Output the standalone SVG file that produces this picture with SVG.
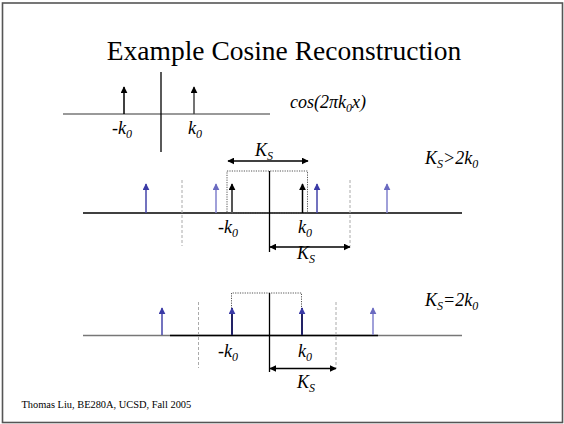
<svg xmlns="http://www.w3.org/2000/svg" width="564" height="424" viewBox="0 0 564 424" font-family="'Liberation Serif', 'Times New Roman', 'DejaVu Serif', serif">
<defs>
<style>
.it{font-style:italic;font-size:18px}
.sb{font-size:12px}
.ax{stroke:#000;stroke-width:1.3;fill:none}
.gax{stroke:#777;stroke-width:1.3;fill:none}
.dash{stroke:#aaa;stroke-width:1;stroke-dasharray:3,2;fill:none}
.dot{stroke:#555;stroke-width:1;stroke-dasharray:1.2,1.2;fill:none}
.blk{stroke:#000;stroke-width:1.5;marker-end:url(#hb)}
.gry{stroke:#555;stroke-width:2;marker-end:url(#hb)}
.b1{stroke:#4444aa;stroke-width:1.5;marker-end:url(#hblue)}
.b2{stroke:#8080cc;stroke-width:1.5;marker-end:url(#hlb)}
.b3{stroke:#222266;stroke-width:2;marker-end:url(#hblue)}
.dim{stroke:#000;stroke-width:1.3;marker-start:url(#hs);marker-end:url(#hb)}
</style>
<marker id="hb" viewBox="0 0 10 10" refX="9" refY="5" markerWidth="7" markerHeight="7" markerUnits="userSpaceOnUse" orient="auto"><path d="M0,0 L10,5 L0,10 z" fill="#000"/></marker>
<marker id="hs" viewBox="0 0 10 10" refX="1" refY="5" markerWidth="7" markerHeight="7" markerUnits="userSpaceOnUse" orient="auto"><path d="M10,0 L0,5 L10,10 z" fill="#000"/></marker>
<marker id="hblue" viewBox="0 0 10 10" refX="9" refY="5" markerWidth="7" markerHeight="7" markerUnits="userSpaceOnUse" orient="auto"><path d="M0,0 L10,5 L0,10 z" fill="#3a3aa6"/></marker>
<marker id="hlb" viewBox="0 0 10 10" refX="9" refY="5" markerWidth="7" markerHeight="7" markerUnits="userSpaceOnUse" orient="auto"><path d="M0,0 L10,5 L0,10 z" fill="#6a6ac0"/></marker>
</defs>
<rect x="0" y="0" width="564" height="424" fill="#fff"/>
<rect x="2.5" y="3" width="560" height="419.5" fill="none" stroke="#555" stroke-width="1.6"/>

<g id="title"><text x="284" y="60" font-size="27.5" text-anchor="middle">Example Cosine Reconstruction</text></g>

<g id="top-plot">
<line class="gax" x1="63" y1="114" x2="270" y2="114"/>
<line class="ax" x1="161" y1="72" x2="161" y2="152"/>
<line class="blk" x1="124" y1="114" x2="124" y2="87"/>
<line class="gry" style="stroke-width:1.5;stroke:#444" x1="194" y1="114" x2="194" y2="87"/>
<text class="it" x="112" y="134">-k<tspan class="sb" dy="4">0</tspan></text>
<text class="it" x="188" y="134">k<tspan class="sb" dy="4">0</tspan></text>
<text class="it" x="290" y="108">cos(2πk<tspan class="sb" dy="4">0</tspan><tspan dy="-4">x)</tspan></text>
</g>

<g id="middle-plot">
<line class="ax" x1="83" y1="213" x2="462" y2="213"/>
<rect class="dot" x="227" y="171" width="80.5" height="42"/>
<line class="ax" x1="269.5" y1="171" x2="269.5" y2="252"/>
<line class="dash" x1="182" y1="180" x2="182" y2="246"/>
<line class="dash" x1="350" y1="180" x2="350" y2="246"/>
<line class="b1" x1="146" y1="213" x2="146" y2="184"/>
<line class="b2" x1="216" y1="213" x2="216" y2="184"/>
<line class="b1" x1="317" y1="213" x2="317" y2="184"/>
<line class="b2" x1="387" y1="213" x2="387" y2="184"/>
<line class="gry" x1="232" y1="213" x2="232" y2="184"/>
<line class="blk" x1="302.5" y1="213" x2="302.5" y2="184"/>
<text class="it" x="218" y="233">-k<tspan class="sb" dy="4">0</tspan></text>
<text class="it" x="298" y="233">k<tspan class="sb" dy="4">0</tspan></text>
<text class="it" x="425" y="164">K<tspan class="sb" dy="4">S</tspan><tspan dy="-4">&gt;2k</tspan><tspan class="sb" dy="4">0</tspan></text>
</g>

<g id="bottom-plot">
<line class="gax" x1="83" y1="335.5" x2="462" y2="335.5"/>
<line class="ax" x1="170" y1="335.5" x2="378" y2="335.5"/>
<polyline class="dot" points="231.5,335 231.5,293 301.5,293 301.5,335"/>
<line class="ax" x1="269.5" y1="293" x2="269.5" y2="372"/>
<line class="dash" x1="198.5" y1="302" x2="198.5" y2="368"/>
<line class="dash" x1="336" y1="302" x2="336" y2="368"/>
<line class="b1" x1="162" y1="335" x2="162" y2="308"/>
<line class="b3" x1="232" y1="335" x2="232" y2="308"/>
<line class="b3" x1="302" y1="335" x2="302" y2="308"/>
<line class="b2" x1="373" y1="335" x2="373" y2="308"/>
<text class="it" x="218" y="357">-k<tspan class="sb" dy="4">0</tspan></text>
<text class="it" x="298" y="357">k<tspan class="sb" dy="4">0</tspan></text>
<text class="it" x="425" y="306">K<tspan class="sb" dy="4">S</tspan><tspan dy="-4">=2k</tspan><tspan class="sb" dy="4">0</tspan></text>
</g>

<g id="connectors">
<line class="dim" x1="228" y1="161" x2="308" y2="161"/>
<line class="dim" x1="270" y1="247" x2="350" y2="247"/>
<line class="dim" x1="270" y1="368.5" x2="336" y2="368.5"/>
<text class="it" x="255" y="156">K<tspan class="sb" dy="4">S</tspan></text>
<text class="it" x="297" y="259">K<tspan class="sb" dy="4">S</tspan></text>
<text class="it" x="297" y="388">K<tspan class="sb" dy="4">S</tspan></text>
</g>

<g id="footer"><text x="21.5" y="408" font-size="10.4">Thomas Liu, BE280A, UCSD, Fall 2005</text></g>
</svg>
